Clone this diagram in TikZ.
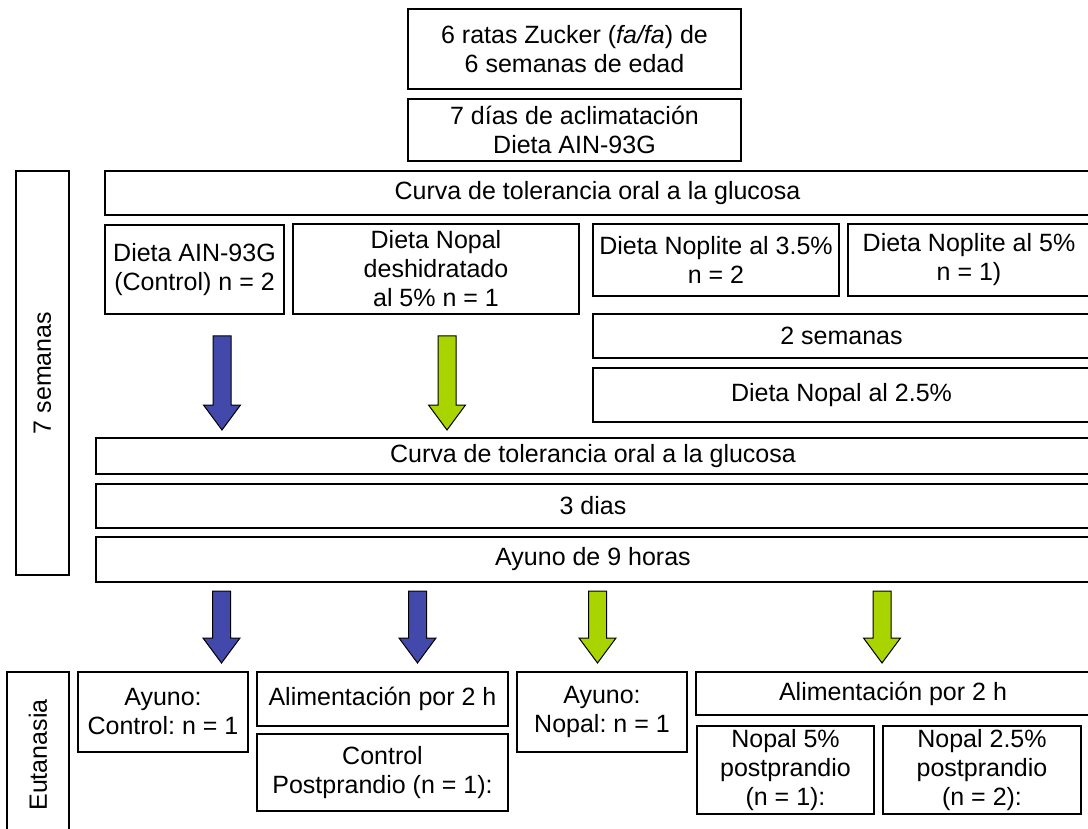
\documentclass[tikz,border=0pt]{standalone}
\usepackage{fontspec}
\setmainfont{Liberation Sans}
\frenchspacing
\definecolor{arrowblue}{RGB}{67,73,170}
\definecolor{arrowgreen}{RGB}{170,212,0}
\tikzset{
  box/.style={draw=black, line width=1.3pt, fill=white, inner sep=0pt,
    align=center, font=\fontsize{25}{29}\selectfont},
  blueblock/.style={draw=black, line width=1pt, fill=arrowblue, line join=miter},
  greenblock/.style={draw=black, line width=1pt, fill=arrowgreen, line join=miter}
}
% block arrow pointing down: x, top of shaft, start of head, tip, style
\newcommand{\blockarrow}[5]{%
  \draw[#5] (#1-9,#2) -- (#1+9,#2) -- (#1+9,#3) -- (#1+18.5,#3) -- (#1,#4)
    -- (#1-18.5,#3) -- (#1-9,#3) -- cycle;}
\begin{document}
\begin{tikzpicture}[x=1pt, y=-1pt]
\fill[white] (0,0) rectangle (1088,829);
\clip (0,0) rectangle (1088,829);

% start of the study
\node[box, minimum width=333, minimum height=80] (rats) at (574.5,49)
  {6 ratas Zucker (\textit{fa/fa}) de\\6 semanas de edad};
\node[box, minimum width=333, minimum height=62] (aclim) at (574.5,130)
  {7 días de aclimatación\\Dieta AIN-93G};

% seven-week phase
\node[box, minimum width=53, minimum height=404] (sem7) at (42.5,373) {};
\node[font=\fontsize{25}{29}\selectfont, rotate=90] (sem7t) at (sem7.center) {7 semanas};
\node[box, minimum width=985, minimum height=44] (curva1) at (597.5,193)
  {Curva de tolerancia oral a la glucosa};
\node[box, minimum width=179, minimum height=89] (ain) at (194.5,269.5)
  {Dieta AIN-93G\\(Control) n = 2};
\node[box, minimum width=286, minimum height=90] (nopal) at (436,269)
  {Dieta Nopal\\deshidratado\\al 5\% n = 1};
\node[box, minimum width=246, minimum height=72] (nop35) at (716,260)
  {Dieta Noplite al 3.5\%\\n = 2};
\node[box, minimum width=242, minimum height=72] (nop5) at (969,260)
  {Dieta Noplite al 5\%\\n = 1)};
\node[box, minimum width=497, minimum height=44] (sem2) at (841.5,336)
  {2 semanas};
\node[box, minimum width=497, minimum height=54] (nopal25) at (841.5,395)
  {Dieta Nopal al 2.5\%};

\blockarrow{222}{336}{405}{430}{blueblock}
\blockarrow{447}{336}{405}{430}{greenblock}

\node[box, minimum width=994, minimum height=36] (curva2) at (593,456)
  {Curva de tolerancia oral a la glucosa};
\node[box, minimum width=994, minimum height=44] (dias3) at (593,506)
  {3 dias};
\node[box, minimum width=994, minimum height=45] (ayuno9) at (593,559.5)
  {Ayuno de 9 horas};

\blockarrow{221.5}{591}{638}{663}{blueblock}
\blockarrow{417.5}{591}{638}{663}{blueblock}
\blockarrow{597.5}{591}{638}{663}{greenblock}
\blockarrow{882}{591}{638}{663}{greenblock}

% euthanasia groups
\node[box, minimum width=62, minimum height=166] (eut) at (38,755) {};
\node[font=\fontsize{25}{29}\selectfont, rotate=90] (eutt) at (eut.center) {Eutanasia};
\node[box, minimum width=170, minimum height=80] (ayc) at (163,712)
  {Ayuno:\\Control: n = 1};
\node[box, minimum width=251, minimum height=54] (alim1) at (382.5,699)
  {Alimentación por 2 h};
\node[box, minimum width=251, minimum height=77] (ctrlpp) at (382.5,772.5)
  {Control\\Postprandio (n = 1):};
\node[box, minimum width=170, minimum height=80] (ayn) at (602,712)
  {Ayuno:\\Nopal: n = 1};
\node[box, minimum width=394, minimum height=43] (alim2) at (893,693.5)
  {Alimentación por 2 h};
\node[box, minimum width=177, minimum height=88] (n5) at (785.5,770)
  {Nopal 5\%\\postprandio\\(n = 1):};
\node[box, minimum width=198, minimum height=88] (n25) at (982,770)
  {Nopal 2.5\%\\postprandio\\(n = 2):};
\end{tikzpicture}
\end{document}
